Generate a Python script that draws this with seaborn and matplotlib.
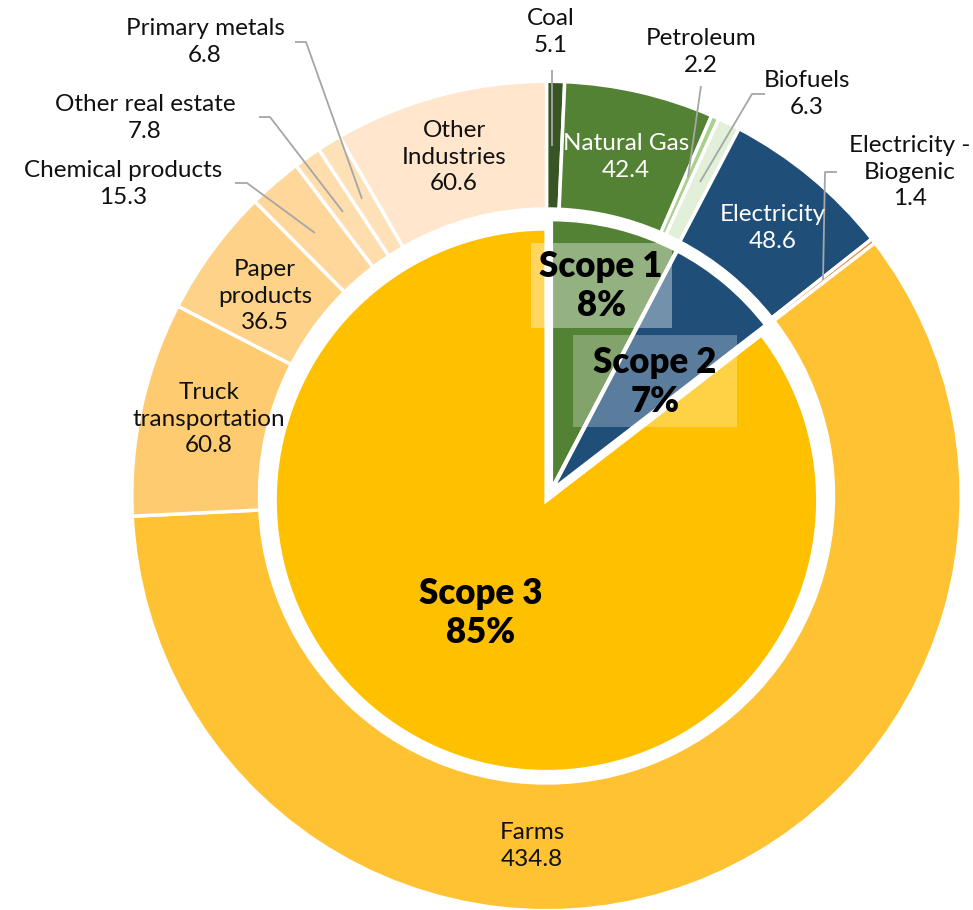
import matplotlib
matplotlib.use('Agg')
import matplotlib.pyplot as plt
import matplotlib.patches as mpatches
import seaborn as sns

# inner pie: the three scopes
scopes = ['Scope 1', 'Scope 2', 'Scope 3']
scope_pct = ['8%', '7%', '85%']
scope_colors = ['#548235', '#1F4E79', '#FFC000']

# outer ring: sources, clockwise from 12 o'clock
sources = ['Coal', 'Natural Gas', 'Petroleum', 'Biofuels',
           'Electricity', 'Electricity -\nBiogenic',
           'Farms', 'Truck\ntransportation', 'Paper\nproducts', 'Chemical products',
           'Other real estate', 'Primary metals', 'Other\nIndustries']
source_vals = [5.1, 42.4, 2.2, 6.3, 48.6, 1.4, 434.8, 60.8, 36.5, 15.3, 7.8, 6.8, 60.6]
source_scope = [0, 0, 0, 0, 1, 1, 2, 2, 2, 2, 2, 2, 2]
source_colors = ['#375623', '#548235', '#A9D18E', '#E2F0D9',
                 '#1F4E79', '#ED7D31',
                 '#FFC233', '#FFCB70', '#FFD28A', '#FFD79B', '#FFDDAD', '#FFE1B8', '#FFE6CC']

scope_vals = [sum(v for v, s in zip(source_vals, source_scope) if s == i) for i in range(3)]

# label placement in pixel coords of the 973x910 canvas (x, y, colour)
label_pos = [(551, 32, 'k'), (626, 157, 'w'), (701, 52, 'k'), (807, 94, 'k'),
             (773, 228, 'w'), (910, 172, 'k'),
             (532, 846, 'k'), (209, 419, 'k'), (265, 296, 'k'), (123, 184, 'k'),
             (145, 118, 'k'), (205, 42, 'k'), (454, 157, 'k')]
leaders = [
    [(552, 70), (552, 146)],
    [(701, 86), (688, 177)],
    [(765, 94), (752, 94), (700, 182)],
    [(837, 172), (825, 172), (823, 280)],
    [(295, 42), (306, 42), (362, 199)],
    [(259, 117), (270, 117), (343, 212)],
    [(235, 183), (247, 183), (315, 233)],
]
scope_label_pos = [(601, 286), (655, 382), (481, 613)]
scope_boxes = [((531, 243, 672, 328), 0.38), ((573, 335, 737, 427), 0.27)]

W, H = 973, 910
CX, CY, R = 546.5, 496, 413


def to_data(px, py):
    return (px - CX) / R, (CY - py) / R


sns.set_theme(style='white')
plt.rcParams['font.family'] = ['Lato', 'DejaVu Sans']
TXT = '#111111'

fig = plt.figure(figsize=(W / 100, H / 100), dpi=100)
ax = fig.add_axes([0, 0, 1, 1])

edge = 1.7 / R
ax.pie(source_vals, radius=1 + edge, startangle=90, counterclock=False,
       colors=source_colors,
       wedgeprops=dict(width=0.301 + 2 * edge, edgecolor='white', linewidth=2.5))

ax.pie(scope_vals, radius=270 / R + edge, startangle=90, counterclock=False,
       colors=scope_colors, center=to_data(551, 491), explode=[0, 0, 0.025],
       wedgeprops=dict(edgecolor='white', linewidth=3))

for name, val, (px, py, c) in zip(sources, source_vals, label_pos):
    x, y = to_data(px, py)
    ax.text(x, y, '{}\n{}'.format(name, val), ha='center', va='center',
            fontsize=17.5, color='white' if c == 'w' else TXT, linespacing=1.35)

for pts in leaders:
    xy = [to_data(*p) for p in pts]
    ax.plot([p[0] for p in xy], [p[1] for p in xy], color='#A6A6A6', lw=1.3,
            solid_capstyle='butt')

for (x0, y0, x1, y1), a in scope_boxes:
    bx, by = to_data(x0, y1)
    ax.add_patch(mpatches.Rectangle((bx, by), (x1 - x0) / R, (y1 - y0) / R,
                                    facecolor='white', alpha=a, edgecolor='none', zorder=3))

for name, pct, (px, py) in zip(scopes, scope_pct, scope_label_pos):
    x, y = to_data(px, py)
    ax.text(x, y, '{}\n{}'.format(name, pct), ha='center', va='center', fontsize=25,
            fontweight='heavy', color='black', linespacing=1.2, zorder=4)

ax.set_xlim(-CX / R, (W - CX) / R)
ax.set_ylim((CY - H) / R, CY / R)
ax.set_aspect('auto')
ax.axis('off')

plt.savefig('out.png', dpi=100)
